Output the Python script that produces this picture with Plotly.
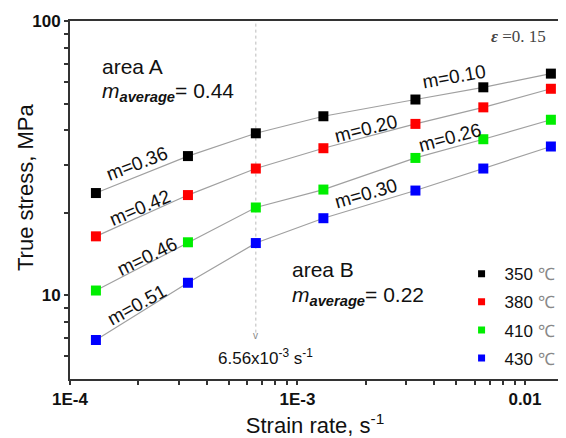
import numpy as np
import plotly.graph_objects as go

# ---- data ----
strain_rate = [1.3e-4, 3.3e-4, 6.56e-4, 1.3e-3, 3.3e-3, 6.56e-3, 1.3e-2]
temps = ["350", "380", "410", "430"]
stress_350 = [23.6, 32.2, 39.0, 45.0, 51.8, 57.4, 64.4]
stress_380 = [16.4, 23.2, 29.0, 34.4, 42.2, 48.5, 56.7]
stress_410 = [10.4, 15.6, 20.9, 24.3, 31.7, 37.1, 43.7]
stress_430 = [6.86, 11.1, 15.5, 19.1, 24.1, 29.0, 34.9]
colors = ["#000000", "#ff0000", "#00ee00", "#0000ff"]

# m-value labels: text, x (strain rate), y (stress), angle
m_labels = ["m=0.36", "m=0.42", "m=0.46", "m=0.51", "m=0.10", "m=0.20", "m=0.26", "m=0.30"]
m_x = [1.97e-4, 2.04e-4, 2.18e-4, 1.98e-4, 4.89e-3, 2.01e-3, 4.66e-3, 2.0e-3]
m_y = [30.2, 20.9, 13.9, 9.21, 62.9, 40.6, 37.6, 23.5]
m_angle = [-21, -23, -26, -29, -10, -14, -15, -16]

x_major = [1e-4, 1e-3, 1e-2]
x_major_text = ["1E-4", "1E-3", "0.01"]
x_minor = [2e-4, 3e-4, 4e-4, 5e-4, 6e-4, 7e-4, 8e-4, 9e-4,
           2e-3, 3e-3, 4e-3, 5e-3, 6e-3, 7e-3, 8e-3, 9e-3]
y_major = [10, 100]
y_major_text = ["10", "100"]
y_minor = [6, 7, 8, 9, 20, 30, 40, 50, 60, 70, 80, 90]

critical_rate = 6.56e-4

FONT = "Liberation Sans, Arial, sans-serif"
SERIF = "Liberation Serif, Times New Roman, serif"

fig = go.Figure()
series = [stress_350, stress_380, stress_410, stress_430]

# dotted vertical line at the critical strain rate
fig.add_trace(go.Scatter(x=[critical_rate, critical_rate], y=[7.3, 100], mode="lines",
                         line=dict(color="#bbbbbb", width=1, dash="dot"),
                         showlegend=False, hoverinfo="skip"))

for s in series:
    fig.add_trace(go.Scatter(x=strain_rate, y=s, mode="lines",
                             line=dict(color="#a0a0a0", width=1.2),
                             showlegend=False, hoverinfo="skip"))
for t, s, c in zip(temps, series, colors):
    fig.add_trace(go.Scatter(x=strain_rate, y=s, mode="markers",
                             marker=dict(symbol="square", size=10, color=c),
                             showlegend=False, name=t))
    fig.add_trace(go.Scatter(x=[None], y=[None], mode="markers",
                             marker=dict(symbol="square", size=7, color=c),
                             name=f"{t} <span style='font-family:{SERIF};color:#888888'>℃</span>",
                             legendgroup=t, showlegend=True))

ann = []
for txt, x, y, a in zip(m_labels, m_x, m_y, m_angle):
    ann.append(dict(x=np.log10(x), y=np.log10(y), xref="x", yref="y", text=txt,
                    textangle=a, showarrow=False,
                    font=dict(family=FONT, size=19, color="#111111")))

ann += [
    dict(x=np.log10(1.36e-4), y=np.log10(68.4), xref="x", yref="y", text="area A",
         xanchor="left", showarrow=False, font=dict(family=FONT, size=21, color="#111111")),
    dict(x=np.log10(1.36e-4), y=np.log10(55.3), xref="x", yref="y",
         text="<i>m</i><sub><b><i>average</i></b></sub>= 0.44",
         xanchor="left", showarrow=False, font=dict(family=FONT, size=21, color="#111111")),
    dict(x=np.log10(9.3e-4), y=np.log10(12.4), xref="x", yref="y", text="area B",
         xanchor="left", showarrow=False, font=dict(family=FONT, size=21, color="#111111")),
    dict(x=np.log10(9.3e-4), y=np.log10(9.9), xref="x", yref="y",
         text="<i>m</i><sub><b><i>average</i></b></sub>= 0.22",
         xanchor="left", showarrow=False, font=dict(family=FONT, size=21, color="#111111")),
    dict(x=np.log10(critical_rate), y=np.log10(7.12), xref="x", yref="y", text="v",
         showarrow=False, font=dict(family=FONT, size=10, color="#888888")),
    dict(x=np.log10(7.24e-4), y=np.log10(5.95), xref="x", yref="y",
         text="6.56x10<sup>-3</sup> s<sup>-1</sup>",
         showarrow=False, font=dict(family=FONT, size=17, color="#111111")),
    dict(x=0.976, y=0.956, xref="paper", yref="paper", xanchor="right", yanchor="middle",
         text="<b><i>ε</i></b> =0. 15", showarrow=False,
         font=dict(family=SERIF, size=17, color="#444444")),
    dict(x=-0.0894, y=0.534, xref="paper", yref="paper", xanchor="center", yanchor="middle",
         text="True stress, MPa", textangle=-90, showarrow=False,
         font=dict(family=FONT, size=22, color="#111111")),
]

# the page body adds an 8px offset; the figure is sized to fill the rest of the window
fig.update_layout(
    width=558, height=430,
    margin=dict(l=62, r=4, t=8, b=47),
    paper_bgcolor="white", plot_bgcolor="white",
    annotations=ann,
    showlegend=True,
    legend=dict(x=0.793, y=0.343, xanchor="left", yanchor="top",
                font=dict(family=FONT, size=17, color="#111111"),
                bgcolor="rgba(0,0,0,0)", tracegroupgap=3, itemwidth=36),
)
tick_style = dict(ticks="outside", ticklen=4, tickwidth=1.5, tickcolor="#333333",
                  ticklabeloverflow="allow")
fig.update_xaxes(
    type="log", range=[-4, -1.846],
    tickmode="array",
    tickvals=x_major + x_minor, ticktext=x_major_text + [""] * len(x_minor),
    tickfont=dict(family=FONT, size=17, color="#111111", weight="bold"),
    showline=True, linewidth=2, linecolor="#333333", mirror=True,
    showgrid=False, zeroline=False,
    title=dict(text="Strain rate, s<sup>-1</sup>", font=dict(family=FONT, size=22, color="#111111"), standoff=9),
    **tick_style,
)
fig.update_yaxes(
    type="log", range=[0.694, 2.001],
    tickmode="array",
    tickvals=y_major + y_minor, ticktext=y_major_text + [""] * len(y_minor),
    tickfont=dict(family=FONT, size=17, color="#111111", weight="bold"),
    showline=True, linewidth=2, linecolor="#333333", mirror=True,
    showgrid=False, zeroline=False,
    **tick_style,
)

fig.write_html("out.html")
